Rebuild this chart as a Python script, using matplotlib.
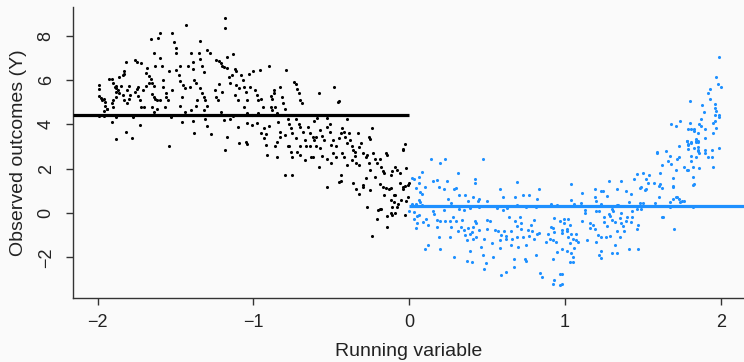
import numpy as np
import matplotlib
matplotlib.use("Agg")
import matplotlib.pyplot as plt

plt.rcParams['font.family'] = ['Liberation Sans', 'DejaVu Sans']

# ---------------- data ----------------
cutoff = 0.0
control_mean = 4.42
treated_mean = 0.30
x_ticks = [-2, -1, 0, 1, 2]
y_ticks = [-2, 0, 2, 4, 6, 8]
x_label = "Running variable"
y_label = "Observed outcomes (Y)"

# control units (running variable < 0), x in [-2, -1]
control_far = [
    (-1.99,5.76),(-1.99,5.58),(-1.99,5.29),(-1.98,5.20),(-1.97,5.10),(-1.96,5.16),(-1.95,5.01),(-1.95,4.83),
    (-1.96,4.60),(-1.99,4.38),(-1.96,4.38),(-1.94,4.68),(-1.94,4.71),
    (-1.93,6.03),(-1.91,6.06),(-1.90,5.85),(-1.89,5.67),(-1.88,5.73),(-1.87,5.55),(-1.88,5.47),(-1.86,5.40),
    (-1.88,5.25),(-1.90,5.10),(-1.91,4.95),(-1.90,4.77),(-1.88,5.62),(-1.88,4.32),(-1.88,3.32),(-1.91,4.12),
    (-1.86,6.12),(-1.84,6.21),(-1.83,6.42),(-1.82,6.83),(-1.83,6.27),(-1.85,5.73),(-1.84,5.32),(-1.83,5.10),
    (-1.81,4.95),(-1.80,5.16),(-1.79,5.32),(-1.81,5.55),(-1.82,3.67),(-1.78,3.40),(-1.77,4.32),(-1.80,5.73),
    (-1.76,6.90),(-1.75,6.81),(-1.76,5.47),(-1.75,5.58),(-1.74,5.67),(-1.74,5.29),(-1.73,5.10),(-1.72,4.77),
    (-1.71,5.55),(-1.72,6.75),(-1.70,4.77),(-1.69,6.33),(-1.69,5.73),(-1.73,3.95),
    (-1.68,6.53),(-1.67,6.18),(-1.66,6.06),(-1.67,5.88),(-1.65,5.85),(-1.64,5.73),(-1.65,5.37),(-1.64,5.25),
    (-1.63,5.16),(-1.62,5.10),(-1.65,4.80),(-1.64,4.56),(-1.62,4.68),(-1.60,5.10),(-1.66,7.83),(-1.64,7.20),
    (-1.63,6.61),(-1.61,7.88),
    (-1.60,8.11),(-1.60,6.98),(-1.59,6.63),(-1.58,6.01),(-1.58,5.67),(-1.56,5.43),(-1.56,5.25),(-1.55,5.10),
    (-1.57,4.80),(-1.54,6.42),(-1.53,4.32),(-1.54,3.04),(-1.52,8.11),(-1.52,5.55),
    (-1.51,7.73),(-1.50,7.43),(-1.50,7.20),(-1.50,6.45),(-1.48,6.23),(-1.47,5.97),(-1.47,6.61),(-1.45,5.76),
    (-1.44,5.62),(-1.46,5.25),(-1.47,4.83),(-1.44,4.56),(-1.46,4.12),(-1.43,8.48),
    (-1.42,6.61),(-1.41,5.70),(-1.40,7.20),(-1.39,6.83),(-1.39,6.48),(-1.38,6.01),(-1.37,5.85),(-1.36,5.10),
    (-1.37,4.83),(-1.40,4.65),(-1.39,4.14),(-1.38,3.59),(-1.35,7.20),
    (-1.34,7.77),(-1.34,6.93),(-1.33,6.61),(-1.32,6.38),(-1.34,5.62),(-1.33,5.43),(-1.32,5.22),(-1.31,5.10),
    (-1.30,4.83),(-1.32,4.65),(-1.31,4.23),(-1.30,3.92),(-1.27,3.56),(-1.30,7.35),(-1.28,7.20),
    (-1.25,5.55),(-1.24,5.25),(-1.23,5.10),(-1.24,6.90),(-1.22,6.87),(-1.21,6.78),(-1.20,6.61),(-1.19,6.57),
    (-1.18,8.78),(-1.18,8.33),(-1.17,7.06),(-1.21,4.56),(-1.19,4.20),(-1.17,3.44),(-1.20,5.47),(-1.22,5.82),
    (-1.17,6.53),(-1.16,6.15),(-1.15,5.88),(-1.14,6.23),(-1.13,7.17),(-1.12,6.48),(-1.11,6.42),(-1.11,5.76),
    (-1.09,5.62),(-1.12,5.34),(-1.10,5.10),(-1.15,4.26),(-1.13,4.38),(-1.10,3.89),(-1.09,3.17),(-1.18,2.84),
    (-1.08,6.23),(-1.07,6.01),(-1.06,5.70),(-1.05,5.47),(-1.04,5.10),(-1.03,6.27),(-1.06,4.80),(-1.04,4.50),
    (-1.02,5.67),(-1.04,4.05),(-1.01,3.95),(-1.05,3.22),(-1.04,3.11),(-1.01,4.42),
]

# control units, x in [-1, 0]
control_near = [
    (-1.00,6.42),(-0.99,5.55),(-0.98,5.32),(-0.97,5.10),(-0.95,5.16),(-0.96,6.45),(-0.94,4.80),(-0.97,4.50),
    (-0.98,4.05),(-0.93,3.82),(-0.92,3.56),(-0.95,3.59),(-0.93,3.37),(-0.92,3.07),(-0.91,2.62),
    (-0.90,6.61),(-0.89,5.28),(-0.88,5.16),(-0.87,5.55),(-0.87,5.40),(-0.89,4.77),(-0.88,4.65),(-0.86,4.77),
    (-0.85,4.50),(-0.90,3.92),(-0.84,4.12),(-0.83,3.67),(-0.85,3.22),(-0.86,3.02),(-0.85,2.54),(-0.83,3.44),
    (-0.83,5.67),(-0.82,5.22),(-0.81,4.95),(-0.80,4.68),(-0.79,6.45),(-0.78,4.23),(-0.77,4.02),(-0.76,3.82),
    (-0.75,3.59),(-0.80,3.52),(-0.78,3.00),(-0.77,3.02),(-0.76,2.77),(-0.80,1.71),(-0.75,1.71),(-0.75,2.54),
    (-0.74,5.91),(-0.73,5.82),(-0.72,5.58),(-0.71,5.43),(-0.70,5.10),(-0.69,4.95),(-0.73,4.23),(-0.71,4.02),
    (-0.70,3.89),(-0.68,3.67),(-0.73,3.40),(-0.67,3.29),(-0.70,3.02),(-0.72,2.77),(-0.70,2.62),(-0.66,3.02),
    (-0.67,2.39),
    (-0.65,3.89),(-0.64,3.62),(-0.62,3.41),(-0.61,3.29),(-0.60,3.00),(-0.59,4.27),(-0.58,5.43),(-0.61,4.14),
    (-0.64,3.00),(-0.63,2.54),(-0.62,2.54),(-0.57,2.92),(-0.58,2.09),(-0.60,3.44),
    (-0.57,3.74),(-0.56,3.47),(-0.55,3.29),(-0.53,4.29),(-0.53,3.89),(-0.51,3.67),(-0.50,3.07),(-0.49,3.29),
    (-0.48,5.67),(-0.47,3.00),(-0.56,2.57),(-0.53,2.42),(-0.50,2.24),(-0.49,2.69),(-0.46,5.01),(-0.45,5.04),
    (-0.51,4.00),
    (-0.47,2.54),(-0.45,3.37),(-0.44,3.59),(-0.43,3.82),(-0.42,3.67),(-0.41,3.44),(-0.40,3.14),(-0.43,2.72),
    (-0.42,2.54),(-0.40,4.26),(-0.44,1.71),(-0.40,2.17),
    (-0.39,3.59),(-0.38,3.29),(-0.37,3.00),(-0.36,2.84),(-0.35,2.57),(-0.35,2.77),(-0.33,3.62),(-0.32,2.99),
    (-0.37,2.39),(-0.34,2.27),(-0.32,2.17),
    (-0.31,3.14),(-0.30,2.69),(-0.28,2.51),(-0.27,2.62),(-0.26,2.27),(-0.25,3.32),(-0.24,3.82),(-0.26,3.41),
    (-0.28,1.56),(-0.25,1.94),
    (-0.23,2.69),(-0.22,2.45),(-0.21,2.24),(-0.19,2.42),(-0.18,2.09),(-0.17,1.91),(-0.16,1.79),(-0.15,2.72),
    (-0.14,2.62),(-0.22,1.64),
    (-0.12,1.71),(-0.11,1.91),(-0.09,2.09),(-0.08,1.94),(-0.06,1.79),(-0.04,2.87),(-0.03,3.11),(-0.02,2.02),
    (-0.04,2.84),
    (-0.53,1.16),(-0.44,1.46),(-0.36,1.37),(-0.34,1.10),(-0.32,0.86),(-0.30,1.28),(-0.27,0.29),(-0.25,1.04),
    (-0.24,-1.04),(-0.21,-0.26),(-0.19,0.17),(-0.18,0.20),(-0.19,1.31),(-0.16,0.83),(-0.15,1.13),(-0.14,-0.14),
    (-0.14,-0.65),(-0.12,0.59),(-0.12,1.13),(-0.12,0.02),(-0.11,0.26),(-0.10,0.50),(-0.10,0.80),(-0.09,0.80),
    (-0.09,0.02),(-0.08,0.26),(-0.05,0.59),(-0.04,1.07),(-0.04,1.16),(-0.03,-0.08),(-0.03,1.22),(-0.02,0.53),
    (-0.01,1.25),(-0.00,1.34),(-0.11,-0.11),(-0.13,1.07),
    (-0.20,0.14),(-0.17,1.19),(-0.06,1.37),(-0.07,0.41),(-0.01,0.74),(-0.30,1.19),(-0.45,1.41),
]

# treated units (running variable >= 0), x in [0, 1]
treated_near = [
    (0.14,2.42),(0.20,2.24),(0.23,2.42),(0.47,2.42),(0.08,1.85),(0.02,1.58),(0.03,1.52),(0.04,1.13),
    (0.06,1.37),(0.06,1.61),(0.07,0.95),(0.08,0.86),(0.10,1.19),(0.07,0.50),(0.06,0.59),(0.04,0.41),
    (0.02,0.41),(0.15,1.43),(0.18,1.49),(0.19,1.16),(0.22,1.07),(0.24,1.46),(0.29,1.10),(0.30,1.13),
    (0.31,1.79),(0.32,0.83),(0.36,0.83),(0.38,0.56),(0.41,0.74),(0.42,1.52),(0.42,1.37),(0.44,0.56),
    (0.45,0.65),(0.27,0.47),(0.25,0.65),(0.50,0.53),(0.58,1.10),(0.60,0.74),(0.69,1.40),(0.68,0.74),
    (0.73,0.83),(0.77,0.80),(0.83,1.10),(0.82,0.62),
    (0.00,0.08),(0.03,0.05),(0.05,-0.14),(0.03,-0.26),(0.04,-0.68),(0.05,-0.47),(0.06,-0.11),(0.09,-0.41),
    (0.11,-0.29),(0.12,-0.56),(0.10,-1.61),(0.12,-1.43),(0.16,-0.05),(0.18,-0.32),(0.18,-0.65),(0.20,-0.38),
    (0.19,-1.07),(0.20,-1.61),(0.23,-0.38),(0.26,-0.38),(0.27,-0.65),(0.26,-1.07),(0.28,-0.20),(0.30,-0.38),
    (0.29,-1.97),(0.31,-0.80),(0.33,-0.62),(0.34,-0.32),(0.35,-0.77),(0.36,-1.01),(0.37,-1.22),(0.38,-0.68),
    (0.39,-0.95),(0.40,-0.86),(0.41,-1.16),(0.41,-0.62),(0.42,-0.35),(0.43,-1.07),(0.39,-1.73),(0.40,-2.21),
    (0.37,-2.15),(0.43,-0.44),(0.45,-0.77),(0.46,-1.52),(0.47,-1.91),(0.48,-1.16),(0.49,-2.27),(0.48,-2.54),
    (0.50,-0.32),(0.50,-0.71),(0.52,-0.38),(0.53,-1.37),(0.54,-1.97),(0.55,-0.77),(0.57,-0.80),(0.58,-1.22),
    (0.58,-1.58),(0.59,-2.81),(0.62,-2.66),(0.59,-1.01),(0.61,-0.83),(0.62,-1.19),(0.62,-1.04),(0.64,-0.17),
    (0.65,-0.83),(0.65,-1.46),(0.67,-2.09),(0.67,-2.45),(0.66,-1.16),(0.68,-0.38),(0.69,-0.59),(0.69,-1.07),
    (0.70,-1.52),(0.71,-0.17),(0.72,-0.47),(0.72,-0.74),(0.73,-1.07),(0.74,-2.09),(0.75,-2.15),(0.75,-1.46),
    (0.76,-0.77),(0.77,-1.04),(0.78,-0.56),(0.79,-0.80),(0.80,-0.32),(0.80,-1.16),(0.81,-1.91),(0.82,-0.95),
    (0.83,-0.89),(0.84,-2.69),(0.85,-2.87),(0.88,-1.31),(0.89,-0.95),(0.90,-1.16),(0.91,-0.65),(0.92,-0.68),
    (0.92,-1.22),(0.92,-2.09),(0.93,-0.86),(0.93,-0.23),(0.94,-1.31),(0.95,-1.76),(0.92,-3.20),(0.93,-3.02),
    (0.98,-2.75),(0.98,-3.20),(0.98,-0.77),(0.99,-0.44),
    (0.08,0.35),(0.15,0.11),(0.22,0.14),(0.32,0.20),(0.35,0.14),(0.39,0.23),(0.45,0.26),(0.56,0.23),
    (0.60,0.14),(0.63,0.23),(0.69,0.35),(0.75,0.26),(0.81,0.26),(0.91,0.41),(0.95,0.35),
]

# treated units, x in [1, 2]
treated_far = [
    (0.97,-0.38),(0.98,-0.89),(0.98,-1.61),(0.97,-2.75),(0.97,-3.23),(0.99,-0.26),(1.01,-0.71),(1.01,-0.83),
    (1.02,-0.29),(1.03,-0.56),(1.02,-1.07),(1.01,-1.70),(1.03,-1.37),(1.04,-0.95),(1.05,-1.19),(1.04,-1.82),
    (1.05,-2.00),(1.03,-2.21),(1.05,-2.21),(1.06,-1.58),(1.07,-0.95),(1.07,-1.22),(1.08,-1.31),(1.04,1.31),
    (1.04,0.59),(1.06,0.41),(1.10,0.44),(1.11,0.89),(1.11,-0.38),(1.13,0.14),(1.13,-0.02),(1.14,-1.22),
    (1.16,-0.47),(1.16,-0.68),(1.18,-0.56),(1.19,1.10),(1.19,0.74),(1.20,0.53),(1.20,0.32),(1.20,0.08),
    (1.19,-0.74),(1.20,-1.31),(1.21,-1.01),(1.22,0.11),(1.22,-1.91),(1.23,0.98),(1.23,-2.03),(1.23,-1.10),
    (1.23,-1.70),(1.23,0.41),(1.24,1.01),(1.25,-0.17),(1.25,-0.41),(1.26,-1.07),(1.27,-0.59),(1.28,1.43),
    (1.27,0.77),(1.28,-0.05),(1.29,-1.04),(1.29,-0.14),(1.30,-0.32),(1.30,0.20),(1.30,-1.82),(1.31,0.32),
    (1.31,0.11),(1.32,-1.46),(1.32,-0.41),(1.33,0.38),(1.33,1.07),(1.33,-0.83),(1.33,-1.82),(1.34,0.35),
    (1.35,-0.23),(1.35,-1.07),(1.36,0.02),(1.36,1.43),(1.36,-0.47),(1.37,-0.59),(1.38,-0.80),(1.39,1.01),
    (1.39,-0.38),(1.40,-0.20),(1.41,-1.64),(1.41,0.50),(1.42,0.86),(1.42,-0.41),(1.43,0.08),(1.43,-0.20),
    (1.44,1.52),(1.46,-0.71),(1.46,0.17),(1.46,1.76),(1.47,-1.64),(1.47,-0.53),(1.48,0.44),(1.49,0.17),
    (1.48,1.13),(1.49,1.19),(1.50,1.79),(1.50,0.47),(1.51,1.04),(1.52,1.52),(1.52,1.07),(1.53,1.37),
    (1.54,1.73),(1.57,1.34),(1.58,0.47),(1.59,2.75),(1.59,2.69),(1.60,0.71),(1.60,1.22),(1.61,1.82),
    (1.61,1.31),(1.62,1.13),(1.62,2.15),(1.62,-0.20),(1.65,2.78),(1.66,2.36),(1.67,0.50),(1.67,0.29),
    (1.67,2.57),(1.68,2.21),(1.69,0.62),(1.69,1.19),(1.69,1.58),(1.70,-0.71),(1.71,1.94),(1.71,0.74),
    (1.72,2.45),(1.72,0.71),(1.73,2.54),(1.73,0.65),(1.73,3.02),(1.74,0.50),(1.75,0.56),(1.76,2.09),
    (1.76,0.53),(1.78,3.23),(1.78,1.94),(1.79,1.94),(1.79,3.05),(1.79,2.87),(1.81,2.57),(1.81,2.33),
    (1.81,3.17),(1.82,2.06),(1.82,1.64),(1.82,0.26),(1.83,1.31),(1.83,2.93),(1.84,3.20),(1.84,2.54),
    (1.85,3.23),(1.85,2.84),(1.85,2.99),(1.85,2.78),(1.86,2.03),(1.86,2.72),(1.90,2.69),(1.90,2.84),
    (1.92,2.51),(1.94,2.84),(1.94,2.51),(1.95,2.09),(1.99,2.93),(1.82,1.28),(1.69,1.22),(1.63,-0.17),
    (1.99,7.03),(1.97,6.12),(1.98,5.82),(2.00,5.70),(1.93,5.58),(1.92,5.40),(1.93,5.13),(1.80,5.07),
    (1.88,4.89),(1.96,4.92),(1.96,4.74),(1.97,4.62),(1.89,4.56),(1.96,4.41),(1.99,4.41),(1.99,4.32),
    (1.87,4.23),(1.96,4.17),(1.74,4.17),(1.80,4.08),(1.95,4.08),(1.86,4.02),(1.87,3.92),(1.68,4.02),
    (1.71,3.92),(1.81,3.80),(1.83,3.80),(1.90,3.80),(1.97,3.83),(1.79,3.77),(1.83,3.68),(1.85,3.59),
    (1.95,3.59),(1.78,3.26),(1.81,3.20),(1.84,3.26),(1.85,3.20),(1.90,3.38),(1.79,3.11),(1.84,3.35),
]

# ---------------- figure ----------------
W, H = 744, 362
bg = '#fafafa'
blue = '#1E90FF'
axis_col = '#333333'

fig = plt.figure(figsize=(W / 100, H / 100), dpi=100, facecolor=bg)
ax = fig.add_axes([72.7 / W, 1 - 298.3 / H, 1 - 72.7 / W, (298.3 - 7.3) / H])
ax.set_facecolor(bg)
xlim = (-2.16, 2.148)
ax.set_xlim(*xlim)
ax.set_ylim(-3.85, 9.28)

ctrl = np.array(control_far + control_near)
trt = np.array(treated_near + treated_far)
ax.scatter(ctrl[:, 0], ctrl[:, 1], s=5, c='black', linewidths=0, zorder=2)
ax.scatter(trt[:, 0], trt[:, 1], s=5, c=blue, linewidths=0, zorder=2)

ax.hlines(control_mean, xlim[0], cutoff, color='black', lw=2.3, zorder=3)
ax.hlines(treated_mean, cutoff, xlim[1], color=blue, lw=2.3, zorder=3)

for s in ['top', 'right']:
    ax.spines[s].set_visible(False)
for s in ['left', 'bottom']:
    ax.spines[s].set_color(axis_col)
    ax.spines[s].set_linewidth(1.0)

ax.set_xticks(x_ticks)
ax.set_yticks(y_ticks)
ax.tick_params(axis='both', direction='out', length=5, width=1.0, color=axis_col,
               labelsize=13, labelcolor='#222222')
ax.tick_params(axis='x', pad=6)
ax.tick_params(axis='y', pad=8)
for lab in ax.get_yticklabels():
    lab.set_rotation(90)
    lab.set_va('center')

ax.set_xlabel(x_label, fontsize=14, color='#222222', labelpad=9)
ax.set_ylabel(y_label, fontsize=14, color='#222222', labelpad=8)

fig.savefig('out.png', dpi=100, facecolor=bg)
